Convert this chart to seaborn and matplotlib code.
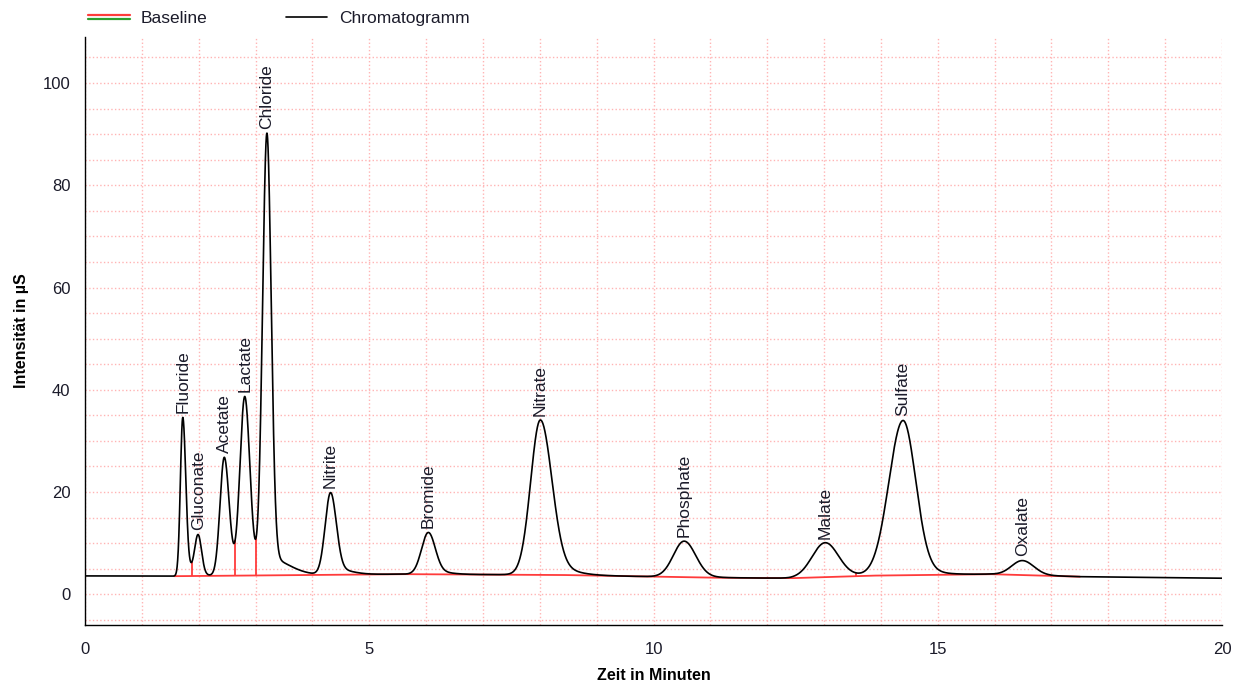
import numpy as np
import pandas as pd
import matplotlib
matplotlib.use("Agg")
import matplotlib.pyplot as plt
import seaborn as sns
from matplotlib.lines import Line2D
from matplotlib.legend_handler import HandlerBase
from matplotlib.ticker import MultipleLocator

# ---------------- data ----------------
ions = ["Fluoride", "Gluconate", "Acetate", "Lactate", "Chloride", "Nitrite",
        "Bromide", "Nitrate", "Phosphate", "Malate", "Sulfate", "Oxalate"]
retention_min = [1.72, 1.99, 2.45, 2.81, 3.20, 4.32, 6.04, 8.01, 10.54, 13.02, 14.39, 16.49]
apex_uS = [34.6, 11.7, 26.8, 38.7, 90.2, 19.9, 12.1, 34.1, 10.4, 10.1, 34.0, 6.6]
sigma_left = [0.042, 0.06, 0.075, 0.085, 0.077, 0.095, 0.12, 0.17, 0.19, 0.23, 0.25, 0.19]
sigma_right = [0.052, 0.06, 0.085, 0.09, 0.075, 0.10, 0.12, 0.20, 0.20, 0.23, 0.22, 0.20]
tail_fraction = [0.06, 0.03, 0.03, 0.03, 0.04, 0.08, 0.08, 0.06, 0.04, 0.04, 0.04, 0.03]
tail_sigma = [0.15, 0.15, 0.15, 0.15, 0.36, 0.30, 0.30, 0.45, 0.40, 0.40, 0.45, 0.40]

background_time = [0.0, 1.6, 5.5, 8.3, 11.0, 12.4, 13.8, 15.9, 17.5, 20.0]
background_uS = [3.6, 3.55, 3.95, 3.8, 3.25, 3.15, 3.65, 3.95, 3.45, 3.15]

baseline_start, baseline_end = 1.57, 17.5
drop_times = [1.88, 2.22, 2.64, 3.01, 13.57]

legend_labels = ["Baseline", "Chromatogramm"]
x_label = "Zeit in Minuten"
y_label = "Intensität in µS"

# ---------------- build the curve ----------------
t = np.linspace(0, 20, 8001)


def shape(tt, t0, sl, sr, f, st):
    d = tt - t0
    left = np.exp(-d ** 2 / (2 * sl ** 2))
    right = (1 - f) * np.exp(-d ** 2 / (2 * sr ** 2)) + f * np.exp(-d ** 2 / (2 * st ** 2))
    return np.where(d < 0, left, right)


def bg(tt):
    return np.interp(tt, background_time, background_uS)


n = len(ions)
M = np.array([[shape(retention_min[i], retention_min[j], sigma_left[j], sigma_right[j],
                     tail_fraction[j], tail_sigma[j]) for j in range(n)] for i in range(n)])
rhs = np.array(apex_uS) - bg(np.array(retention_min))
amps = np.linalg.solve(M, rhs)


def signal(tt):
    s = bg(tt)
    for j in range(n):
        s = s + amps[j] * shape(tt, retention_min[j], sigma_left[j], sigma_right[j],
                                tail_fraction[j], tail_sigma[j])
    return s


df = pd.DataFrame({"t": t, "y": signal(t)})
tb = t[(t >= baseline_start) & (t <= baseline_end)]
dfb = pd.DataFrame({"t": tb, "y": bg(tb)})

# ---------------- plot ----------------
sns.set_style("white")
plt.rcParams["font.family"] = ["Liberation Sans", "DejaVu Sans"]

RED = "#ff3b3b"
GREEN = "#2e9e2e"
TXT = "#1b1b2a"

fig = plt.figure(figsize=(12.35, 6.84), dpi=100)
ax = fig.add_axes([85 / 1235, 1 - 625 / 684, (1222 - 85) / 1235, (625 - 37) / 684])

sns.lineplot(data=dfb, x="t", y="y", ax=ax, color=RED, lw=1.3, zorder=3)
sns.lineplot(data=df, x="t", y="y", ax=ax, color="black", lw=1.2, zorder=4)
dt = np.array(drop_times)
ax.vlines(dt, bg(dt), signal(dt), color=RED, lw=1.3, zorder=3)

for name, t0, h in zip(ions, retention_min, apex_uS):
    ax.annotate(name, (t0, h), xytext=(0, 3), textcoords="offset points",
                rotation=90, ha="center", va="bottom", fontsize=12.5, color=TXT)

ax.set_xlim(0, 20)
ax.set_ylim(-6, 109)
ax.xaxis.set_major_locator(MultipleLocator(5))
ax.xaxis.set_minor_locator(MultipleLocator(1))
ax.yaxis.set_major_locator(MultipleLocator(20))
ax.yaxis.set_minor_locator(MultipleLocator(5))
ax.grid(which="both", color="#ffb4b4", linestyle=":", linewidth=1.0, zorder=0)
ax.set_axisbelow(True)
for s in ["top", "right"]:
    ax.spines[s].set_visible(False)
for s in ["left", "bottom"]:
    ax.spines[s].set_color("black")
    ax.spines[s].set_linewidth(1.0)
ax.tick_params(which="major", length=7, width=1, color="black", labelsize=12,
               labelcolor=TXT, direction="out")
ax.tick_params(which="minor", length=4, width=1, color="black", direction="out")
ax.tick_params(axis="x", pad=5)
ax.set_xlabel(x_label, fontsize=11.5, fontweight="bold", color="black")
ax.set_ylabel(y_label, fontsize=11.5, fontweight="bold", color="black")
ax.xaxis.set_label_coords(0.5, -0.073)
ax.yaxis.set_label_coords(-0.0495, 0.5)


class DoubleLineHandler(HandlerBase):
    def create_artists(self, legend, orig_handle, xdescent, ydescent, width, height,
                       fontsize, trans):
        y = height / 2 - ydescent
        l1 = Line2D([-xdescent, width - xdescent], [y + 1.2, y + 1.2], color=RED, lw=1.6)
        l2 = Line2D([-xdescent, width - xdescent], [y - 1.2, y - 1.2], color=GREEN, lw=1.6)
        l1.set_transform(trans)
        l2.set_transform(trans)
        return [l1, l2]


h_base = Line2D([], [], color=RED)
h_chrom = Line2D([], [], color="black", lw=1.2)
fig.legend([h_base, h_chrom], legend_labels, loc="upper left",
           bbox_to_anchor=(88 / 1235, 1 - 11 / 684), ncol=2, frameon=False,
           handlelength=2.4, handletextpad=0.65, columnspacing=4.5, fontsize=12.5,
           borderpad=0, borderaxespad=0, labelcolor=TXT,
           handler_map={h_base: DoubleLineHandler()})

fig.savefig("out.png", dpi=100)
